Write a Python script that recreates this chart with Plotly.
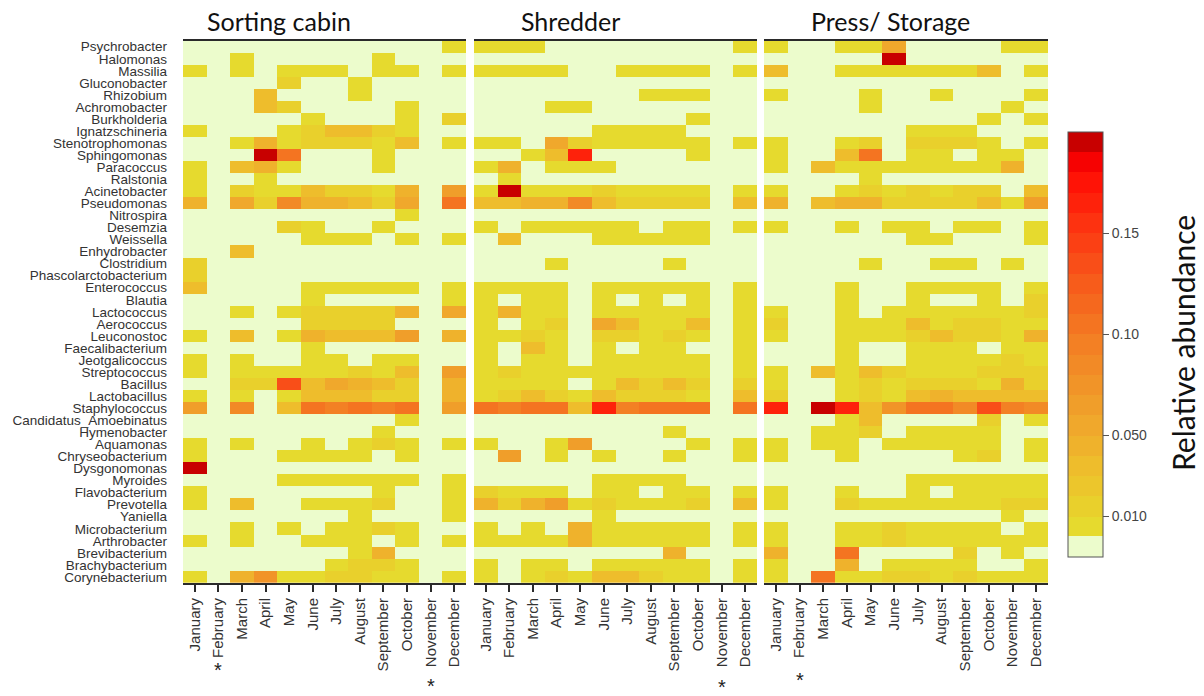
import plotly.graph_objects as go

# the page adds an 8 px body margin, so figure pixels = screen pixels - 8
OFF = 8
W, H = 1204 - 2 * OFF, 696 - 2 * OFF

genera = ["Psychrobacter", "Halomonas", "Massilia", "Gluconobacter", "Rhizobium",
          "Achromobacter", "Burkholderia", "Ignatzschineria", "Stenotrophomonas",
          "Sphingomonas", "Paracoccus", "Ralstonia", "Acinetobacter", "Pseudomonas",
          "Nitrospira", "Desemzia", "Weissella", "Enhydrobacter", "Clostridium",
          "Phascolarctobacterium", "Enterococcus", "Blautia", "Lactococcus",
          "Aerococcus", "Leuconostoc", "Faecalibacterium", "Jeotgalicoccus",
          "Streptococcus", "Bacillus", "Lactobacillus", "Staphylococcus",
          "Candidatus_Amoebinatus", "Hymenobacter", "Aquamonas", "Chryseobacterium",
          "Dysgonomonas", "Myroides", "Flavobacterium", "Prevotella", "Yaniella",
          "Microbacterium", "Arthrobacter", "Brevibacterium", "Brachybacterium",
          "Corynebacterium"]

months = ["January", "February", "March", "April", "May", "June", "July",
          "August", "September", "October", "November", "December"]

panel_titles = ["Sorting cabin", "Shredder", "Press/ Storage"]

# relative abundance, rows = genera, columns = months
sorting_cabin = [
    [0, 0, 0, 0, 0, 0, 0, 0, 0, 0, 0, .005],
    [0, 0, .005, 0, 0, 0, 0, 0, .005, 0, 0, 0],
    [.005, 0, .005, 0, .005, .005, .005, 0, .005, .005, 0, .005],
    [0, 0, 0, 0, .02, 0, 0, .005, 0, 0, 0, 0],
    [0, 0, 0, .03, 0, 0, 0, .005, 0, 0, 0, 0],
    [0, 0, 0, .03, .02, 0, 0, 0, 0, .005, 0, 0],
    [0, 0, 0, 0, 0, .005, 0, 0, 0, .005, 0, .02],
    [.005, 0, 0, 0, .005, .02, .03, .03, .01, .005, 0, 0],
    [0, 0, .005, .04, .005, .02, .01, .02, .005, .03, 0, .005],
    [0, 0, 0, .19, .10, 0, 0, 0, .005, 0, 0, 0],
    [.005, 0, .03, .04, .005, 0, 0, 0, .005, 0, 0, 0],
    [.005, 0, 0, .005, 0, 0, 0, 0, 0, 0, 0, 0],
    [.005, 0, .02, .005, .005, .03, .01, .01, .005, .04, 0, .06],
    [.04, 0, .05, .02, .08, .04, .04, .03, .02, .05, 0, .10],
    [0, 0, 0, 0, 0, 0, 0, 0, 0, .005, 0, 0],
    [0, 0, 0, 0, .02, .005, 0, 0, .005, 0, 0, 0],
    [0, 0, 0, 0, 0, .005, .005, .005, 0, .005, 0, .005],
    [0, 0, .03, 0, 0, 0, 0, 0, 0, 0, 0, 0],
    [.02, 0, 0, 0, 0, 0, 0, 0, 0, 0, 0, 0],
    [.02, 0, 0, 0, 0, 0, 0, 0, 0, 0, 0, 0],
    [.03, 0, 0, 0, 0, .005, .005, .005, .005, .005, 0, .005],
    [0, 0, 0, 0, 0, .005, 0, 0, 0, 0, 0, .005],
    [0, 0, .005, 0, .005, .02, .02, .02, .01, .04, 0, .05],
    [0, 0, 0, 0, 0, .02, .01, .01, .01, 0, 0, 0],
    [.005, 0, .03, 0, .005, .04, .035, .035, .03, .06, 0, .04],
    [0, 0, 0, 0, 0, .005, 0, 0, 0, 0, 0, 0],
    [.005, 0, .005, 0, 0, .005, .005, 0, .005, .005, 0, 0],
    [.005, 0, .005, .005, .005, .005, .005, .02, .005, .035, 0, .06],
    [0, 0, .02, .02, .13, .035, .05, .04, .03, .02, 0, .04],
    [.005, 0, .005, 0, .005, .035, .035, .035, .02, .02, 0, .04],
    [.06, 0, .08, 0, .03, .10, .09, .11, .09, .10, 0, .06],
    [0, 0, 0, 0, 0, 0, 0, 0, 0, .005, 0, 0],
    [0, 0, 0, 0, 0, 0, 0, 0, .005, 0, 0, 0],
    [.005, 0, .005, 0, 0, .005, 0, .005, .01, .005, 0, .005],
    [.005, 0, 0, 0, .005, .005, .005, .005, 0, .005, 0, 0],
    [.19, 0, 0, 0, 0, 0, 0, 0, 0, 0, 0, 0],
    [0, 0, 0, 0, .005, .005, .005, .005, .005, .005, 0, .005],
    [.005, 0, 0, 0, 0, 0, 0, 0, .005, 0, 0, .005],
    [.005, 0, .03, 0, 0, .005, .005, .005, .01, 0, 0, .005],
    [0, 0, 0, 0, 0, 0, 0, .005, 0, 0, 0, .005],
    [0, 0, .005, 0, .005, 0, .005, .005, .01, .005, 0, 0],
    [.005, 0, .005, 0, 0, .005, .005, .005, 0, .005, 0, .005],
    [0, 0, 0, 0, 0, 0, 0, .005, .04, 0, 0, 0],
    [0, 0, 0, 0, 0, 0, .005, .02, .01, .005, 0, 0],
    [.005, 0, .04, .07, .005, .005, .02, .02, .005, .005, 0, .005],
]

shredder = [
    [.005, .005, .005, 0, 0, 0, 0, 0, 0, 0, 0, .005],
    [0, 0, 0, 0, 0, 0, 0, 0, 0, 0, 0, 0],
    [.005, .005, .005, .005, 0, 0, .005, .005, .005, .005, 0, .005],
    [0, 0, 0, 0, 0, 0, 0, 0, 0, 0, 0, 0],
    [0, 0, 0, 0, 0, 0, 0, .005, .005, .005, 0, 0],
    [0, 0, 0, .005, .005, 0, 0, 0, 0, 0, 0, 0],
    [0, 0, 0, 0, 0, 0, 0, 0, 0, .005, 0, 0],
    [0, 0, 0, 0, 0, .005, .005, .005, .005, 0, 0, 0],
    [.005, .005, 0, .05, .02, .005, .005, .005, .005, .005, 0, .005],
    [0, 0, .005, .03, .16, 0, 0, 0, 0, .005, 0, 0],
    [.005, .04, 0, .005, .005, .005, 0, 0, 0, 0, 0, 0],
    [0, .005, 0, 0, 0, 0, 0, 0, 0, 0, 0, 0],
    [.005, .19, .005, .005, .005, .02, .005, .005, .005, .005, 0, .005],
    [.035, .03, .04, .04, .08, .03, .01, .01, .01, .01, 0, .03],
    [0, 0, 0, 0, 0, 0, 0, 0, 0, 0, 0, 0],
    [.005, 0, .005, .005, .005, .005, .005, 0, .005, .005, 0, .005],
    [0, .03, 0, 0, 0, .005, .005, .005, .005, .005, 0, 0],
    [0, 0, 0, 0, 0, 0, 0, 0, 0, 0, 0, 0],
    [0, 0, 0, .005, 0, 0, 0, 0, .005, 0, 0, 0],
    [0, 0, 0, 0, 0, 0, 0, 0, 0, 0, 0, 0],
    [.005, .005, .005, .005, 0, .005, .005, .005, .005, .005, 0, .005],
    [.005, 0, .005, .005, 0, .005, 0, .005, 0, .005, 0, .005],
    [.005, .04, .005, .005, 0, .005, .005, .005, .005, .005, 0, .005],
    [.005, 0, .005, .02, 0, .05, .035, .005, .005, .03, 0, .005],
    [.005, .005, .02, .005, 0, .02, .02, .005, .02, .005, 0, .005],
    [.005, 0, .03, .005, 0, .005, 0, .005, .005, 0, 0, .005],
    [.005, 0, .005, .005, 0, .005, .005, .005, .005, .005, 0, .005],
    [.005, .02, .005, .005, .005, .005, .005, .005, .005, .005, 0, .005],
    [.005, .005, .005, .005, 0, .005, .03, .02, .035, .02, 0, .02],
    [.005, .02, .03, .02, .005, .035, .02, .02, .02, .005, 0, .03],
    [.10, .09, .10, .10, .03, .16, .09, .10, .10, .11, 0, .10],
    [0, 0, 0, 0, 0, 0, 0, 0, 0, 0, 0, 0],
    [0, 0, 0, 0, 0, 0, 0, 0, .005, 0, 0, 0],
    [.005, 0, 0, .005, .06, 0, 0, 0, 0, .005, 0, .005],
    [0, .06, 0, .005, 0, .005, 0, 0, .005, 0, 0, .005],
    [0, 0, 0, 0, 0, 0, 0, 0, 0, 0, 0, 0],
    [0, 0, 0, 0, 0, .005, .005, .005, .005, 0, 0, 0],
    [.02, .005, .005, .005, 0, .005, .005, 0, .005, .005, 0, .005],
    [.04, .02, .04, .06, .005, .02, .005, .005, .005, .02, 0, .03],
    [0, 0, 0, 0, 0, .005, 0, 0, 0, 0, 0, 0],
    [.005, 0, .005, 0, .04, .005, .005, .005, .005, .005, 0, .005],
    [.005, .005, .005, .005, .04, .005, .005, .005, .005, .005, 0, .005],
    [0, 0, 0, 0, 0, 0, 0, 0, .04, 0, 0, 0],
    [.005, 0, .005, .005, 0, .005, .005, .005, .005, .005, 0, .005],
    [.005, 0, .005, .02, .005, .03, .03, .02, .005, .005, 0, .005],
]

press_storage = [
    [.005, 0, 0, .005, .005, .05, 0, 0, 0, 0, .005, .005],
    [0, 0, 0, 0, 0, .19, 0, 0, 0, 0, 0, 0],
    [.03, 0, 0, .005, .005, .005, .005, .005, .005, .03, 0, .005],
    [0, 0, 0, 0, 0, 0, 0, 0, 0, 0, 0, 0],
    [.005, 0, 0, 0, .005, 0, 0, .005, 0, 0, 0, .005],
    [0, 0, 0, 0, .005, 0, 0, 0, 0, 0, .005, 0],
    [0, 0, 0, 0, 0, 0, 0, 0, 0, .005, 0, .005],
    [0, 0, 0, 0, 0, 0, .005, .005, .005, 0, 0, 0],
    [.005, 0, 0, .005, .02, 0, .02, .02, .02, .005, 0, .005],
    [.005, 0, 0, .03, .11, 0, .005, .005, 0, .005, .005, 0],
    [.005, 0, .03, .005, .005, .005, .005, .005, .005, .005, .04, 0],
    [0, 0, 0, 0, .005, 0, 0, 0, 0, 0, 0, 0],
    [.005, 0, 0, .005, .02, .005, .02, .005, .02, .02, 0, .03],
    [.04, 0, .03, .04, .04, .01, .02, .01, .02, .03, .005, .06],
    [0, 0, 0, 0, 0, 0, 0, 0, 0, 0, 0, 0],
    [.005, 0, 0, .005, 0, .005, .005, 0, .005, .005, 0, .005],
    [0, 0, 0, 0, 0, 0, .005, .005, 0, 0, 0, .005],
    [0, 0, 0, 0, 0, 0, 0, 0, 0, 0, 0, 0],
    [0, 0, 0, 0, .005, 0, 0, .005, .005, 0, .005, 0],
    [0, 0, 0, 0, 0, 0, 0, 0, 0, 0, 0, 0],
    [0, 0, 0, .005, 0, 0, .005, .005, .005, .005, 0, .005],
    [0, 0, 0, .005, 0, 0, .005, 0, 0, .005, 0, .02],
    [.005, 0, 0, .005, 0, .005, .005, .005, .005, .005, .005, .02],
    [.02, 0, 0, .005, .005, .005, .03, .005, .02, .02, .005, .005],
    [.005, 0, 0, .005, .005, .005, .02, .035, .02, .02, .005, .04],
    [0, 0, 0, .005, 0, 0, .005, .005, .005, 0, .005, .005],
    [0, 0, 0, .005, 0, 0, .005, .005, .005, .005, .02, .005],
    [.005, 0, .03, .005, .035, .02, .005, .005, .005, .02, .02, .02],
    [.005, 0, 0, .005, .02, .005, .02, .02, .02, .005, .04, .02],
    [.02, 0, 0, .005, .02, .005, .03, .04, .03, .03, .03, .03],
    [.16, 0, .19, .16, .03, .07, .11, .11, .08, .13, .09, .08],
    [0, 0, 0, .005, .03, 0, 0, 0, 0, .02, 0, .005],
    [0, 0, .005, .005, .02, 0, .005, .005, .005, .005, 0, 0],
    [.005, 0, .005, .005, 0, .005, .005, .005, .005, .005, 0, .005],
    [.005, 0, 0, .005, 0, 0, 0, 0, .005, .02, 0, .005],
    [0, 0, 0, 0, 0, 0, 0, 0, 0, 0, 0, 0],
    [0, 0, 0, 0, 0, 0, .005, .005, .005, .005, .005, .005],
    [.005, 0, 0, .005, 0, 0, .005, 0, .005, .005, .005, .005],
    [.005, 0, 0, .02, .005, .005, .005, .005, .005, .005, .02, .02],
    [0, 0, 0, 0, 0, 0, 0, 0, 0, 0, .005, 0],
    [.005, 0, 0, .005, .005, .02, .005, .005, .005, .005, 0, .005],
    [.005, 0, 0, .005, .005, .02, .005, .005, .005, .005, .005, .005],
    [.04, 0, 0, .11, 0, 0, 0, 0, .02, 0, .005, 0],
    [.005, 0, 0, .04, 0, .005, .005, .005, .005, 0, 0, .005],
    [.005, 0, .11, .005, .005, .02, .02, .005, .02, .005, .005, .005],
]

# months without sample (asterisks): (panel index, month index, label y in px)
missing = [(0, 1, 670), (0, 10, 686), (1, 10, 687), (2, 1, 680)]

# discrete colour bins: light green for zero, then 0.01 wide steps up to 0.20
bin_colors = ["#ecfccc", "#e6da2e", "#e9d02c", "#ecc62c", "#eebd2c", "#efb22c",
              "#f0a82c", "#f09e2a", "#f19428", "#f28a26", "#f38024", "#f47421",
              "#f5681e", "#f75c1b", "#f94e18", "#fb4014", "#fd3210", "#fe220b",
              "#ff1306", "#f60202", "#c80000"]
zmin, zmax = -0.01, 0.20
edges = [zmin, 0.0006] + [0.01 * k for k in range(1, 20)] + [zmax]
colorscale = []
for i, c in enumerate(bin_colors):
    a = (edges[i] - zmin) / (zmax - zmin)
    b = (edges[i + 1] - zmin) / (zmax - zmin)
    colorscale.append([a, c])
    colorscale.append([b, c])


def px_x(v):
    return (v - OFF) / W


def px_y(v):
    return 1 - (v - OFF) / H


panel_px = [(183, 466), (474, 757), (764, 1048)]
top_px, bottom_px = 40.7, 583
ydom = [px_y(bottom_px), px_y(top_px)]

fig = go.Figure()
data = [sorting_cabin, shredder, press_storage]
for p in range(3):
    fig.add_trace(go.Heatmap(
        z=data[p], x=list(range(12)), y=list(range(len(genera))),
        coloraxis="coloraxis",
        xaxis="x" if p == 0 else f"x{p+1}",
        yaxis="y" if p == 0 else f"y{p+1}",
        hoverongaps=False,
    ))

layout = dict(
    width=W, height=H,
    margin=dict(l=0, r=0, t=0, b=0),
    paper_bgcolor="white", plot_bgcolor="white",
    font=dict(family="Liberation Sans, Arial, sans-serif", color="#333"),
    showlegend=False,
    coloraxis=dict(
        colorscale=colorscale, cmin=zmin, cmax=zmax,
        colorbar=dict(
            x=px_x(1068), xanchor="left", xref="paper",
            y=px_y(557), yanchor="bottom", yref="paper",
            lenmode="pixels", len=425, thicknessmode="pixels", thickness=35,
            xpad=0, ypad=0,
            outlinecolor="#555", outlinewidth=1,
            tickvals=[0.01, 0.05, 0.10, 0.15],
            ticktext=["0.010", "0.050", "0.10", "0.15"],
            ticks="outside", ticklen=6, tickcolor="#555", tickwidth=1,
            tickfont=dict(size=14, color="#444", family="Liberation Sans, Arial"),
        ),
    ),
)

for p in range(3):
    sx = "" if p == 0 else str(p + 1)
    x0, x1 = panel_px[p]
    layout[f"xaxis{sx}"] = dict(
        domain=[px_x(x0), px_x(x1)], range=[-0.5, 11.5],
        tickvals=list(range(12)), ticktext=months, tickangle=-90,
        tickfont=dict(size=15, color="#333"),
        showline=True, linecolor="#2a2a2a", linewidth=2, mirror=True,
        ticks="outside", ticklen=7, tickwidth=1.5, tickcolor="#2a2a2a",
        showgrid=False, zeroline=False, fixedrange=True, automargin=False,
        anchor="y" if p == 0 else f"y{p+1}",
    )
    layout[f"yaxis{sx}"] = dict(
        domain=ydom, range=[len(genera) - 0.5, -0.5],
        tickvals=list(range(len(genera))), ticktext=genera,
        showticklabels=(p == 0), ticks="",
        tickfont=dict(size=13.5, color="#333"),
        ticklabelstandoff=15,
        showline=False, showgrid=False, zeroline=False, fixedrange=True,
        automargin=False,
        anchor="x" if p == 0 else f"x{p+1}",
    )

fig.update_layout(**layout)

title_x = [279, 570, 890]
for p in range(3):
    fig.add_annotation(text=panel_titles[p], x=px_x(title_x[p]), y=px_y(21),
                       xref="paper", yref="paper", showarrow=False,
                       xanchor="center", yanchor="middle",
                       font=dict(size=25, family="Lato", color="#111"))

# colour bar title
fig.add_annotation(text="Relative abundance", x=px_x(1183), y=px_y(343),
                   xref="paper", yref="paper", showarrow=False, textangle=-90,
                   xanchor="center", yanchor="middle",
                   font=dict(size=30, family="Lato", color="#111"))

for p, m, ypx in missing:
    fig.add_annotation(text="*", x=m, y=px_y(ypx),
                       xref="x" if p == 0 else f"x{p+1}", yref="paper",
                       showarrow=False, xanchor="center", yanchor="middle",
                       font=dict(size=20, color="#222"))

fig.write_html("out.html")
